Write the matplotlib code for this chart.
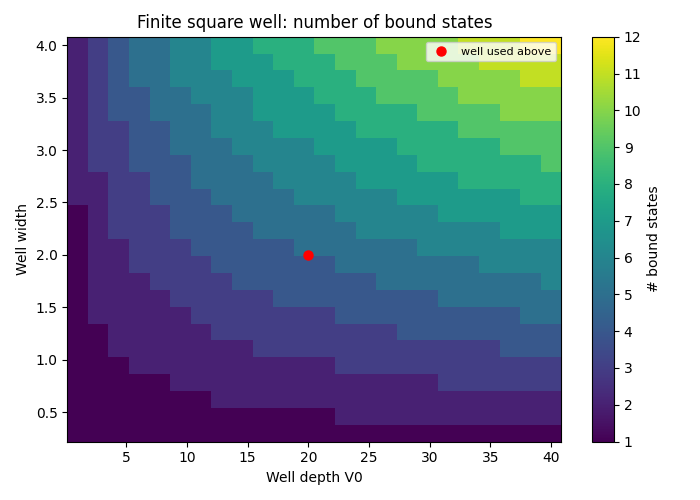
import numpy as np
import matplotlib
matplotlib.use("Agg")
import matplotlib.pyplot as plt

# grid (centres of the cells)
well_depth = np.linspace(1, 40, 24)      # V0
well_width = np.linspace(0.3, 4.0, 24)   # width

# number of bound states; one row per well width (bottom to top), one column per depth
bound_states = [
    [1, 1, 1, 1, 1, 1, 1, 1, 1, 1, 1, 1, 1, 1, 1, 1, 1, 1, 1, 1, 1, 1, 1, 1],
    [1, 1, 1, 1, 1, 1, 1, 1, 1, 1, 1, 1, 1, 2, 2, 2, 2, 2, 2, 2, 2, 2, 2, 2],
    [1, 1, 1, 1, 1, 1, 1, 2, 2, 2, 2, 2, 2, 2, 2, 2, 2, 2, 2, 2, 2, 2, 2, 2],
    [1, 1, 1, 1, 1, 2, 2, 2, 2, 2, 2, 2, 2, 2, 2, 2, 2, 2, 3, 3, 3, 3, 3, 3],
    [1, 1, 1, 2, 2, 2, 2, 2, 2, 2, 2, 2, 2, 3, 3, 3, 3, 3, 3, 3, 3, 3, 3, 3],
    [1, 1, 2, 2, 2, 2, 2, 2, 2, 3, 3, 3, 3, 3, 3, 3, 3, 3, 3, 3, 3, 4, 4, 4],
    [1, 1, 2, 2, 2, 2, 2, 3, 3, 3, 3, 3, 3, 3, 3, 3, 4, 4, 4, 4, 4, 4, 4, 4],
    [1, 2, 2, 2, 2, 2, 3, 3, 3, 3, 3, 3, 3, 4, 4, 4, 4, 4, 4, 4, 4, 4, 5, 5],
    [1, 2, 2, 2, 2, 3, 3, 3, 3, 3, 4, 4, 4, 4, 4, 4, 4, 4, 5, 5, 5, 5, 5, 5],
    [1, 2, 2, 2, 3, 3, 3, 3, 4, 4, 4, 4, 4, 4, 4, 5, 5, 5, 5, 5, 5, 5, 5, 6],
    [1, 2, 2, 3, 3, 3, 3, 4, 4, 4, 4, 4, 4, 5, 5, 5, 5, 5, 5, 5, 6, 6, 6, 6],
    [1, 2, 2, 3, 3, 3, 4, 4, 4, 4, 4, 5, 5, 5, 5, 5, 5, 6, 6, 6, 6, 6, 6, 6],
    [1, 2, 3, 3, 3, 4, 4, 4, 4, 5, 5, 5, 5, 5, 6, 6, 6, 6, 6, 6, 6, 7, 7, 7],
    [1, 2, 3, 3, 3, 4, 4, 4, 5, 5, 5, 5, 5, 6, 6, 6, 6, 6, 7, 7, 7, 7, 7, 7],
    [2, 2, 3, 3, 4, 4, 4, 5, 5, 5, 5, 6, 6, 6, 6, 6, 7, 7, 7, 7, 7, 7, 8, 8],
    [2, 2, 3, 3, 4, 4, 5, 5, 5, 5, 6, 6, 6, 6, 7, 7, 7, 7, 7, 8, 8, 8, 8, 8],
    [2, 3, 3, 4, 4, 4, 5, 5, 5, 6, 6, 6, 6, 7, 7, 7, 7, 8, 8, 8, 8, 8, 8, 9],
    [2, 3, 3, 4, 4, 5, 5, 5, 6, 6, 6, 6, 7, 7, 7, 7, 8, 8, 8, 8, 8, 9, 9, 9],
    [2, 3, 3, 4, 4, 5, 5, 6, 6, 6, 7, 7, 7, 7, 8, 8, 8, 8, 8, 9, 9, 9, 9, 9],
    [2, 3, 4, 4, 5, 5, 5, 6, 6, 7, 7, 7, 7, 8, 8, 8, 8, 9, 9, 9, 9, 10, 10, 10],
    [2, 3, 4, 4, 5, 5, 6, 6, 6, 7, 7, 7, 8, 8, 8, 9, 9, 9, 9, 10, 10, 10, 10, 10],
    [2, 3, 4, 5, 5, 6, 6, 6, 7, 7, 7, 8, 8, 8, 9, 9, 9, 9, 10, 10, 10, 10, 11, 11],
    [2, 3, 4, 5, 5, 6, 6, 7, 7, 7, 8, 8, 8, 9, 9, 9, 10, 10, 10, 10, 11, 11, 11, 11],
    [2, 3, 4, 5, 5, 6, 6, 7, 7, 8, 8, 8, 9, 9, 9, 10, 10, 10, 10, 11, 11, 11, 12, 12],
]

used_V0 = [20]
used_width = [2.0]

fig = plt.figure(figsize=(7, 5), dpi=100)
ax = fig.add_axes([0.0961, 0.1168, 0.7059, 0.8098])
cax = fig.add_axes([0.8457, 0.1168, 0.0314, 0.8098])

mesh = ax.pcolormesh(well_depth, well_width, np.array(bound_states),
                     shading="nearest", cmap="viridis", vmin=1, vmax=12)
ax.plot(used_V0, used_width, "o", color="red", markersize=6.5,
        label="well used above")
ax.set_xticks([5, 10, 15, 20, 25, 30, 35, 40])
ax.set_yticks([0.5, 1.0, 1.5, 2.0, 2.5, 3.0, 3.5, 4.0])
ax.set_xlabel("Well depth V0")
ax.set_ylabel("Well width")
ax.set_title("Finite square well: number of bound states")
ax.legend(loc="upper right", fontsize=8)

cb = fig.colorbar(mesh, cax=cax)
cb.set_ticks(list(range(1, 13)))
cb.set_label("# bound states")

fig.savefig("out.png", dpi=100)
